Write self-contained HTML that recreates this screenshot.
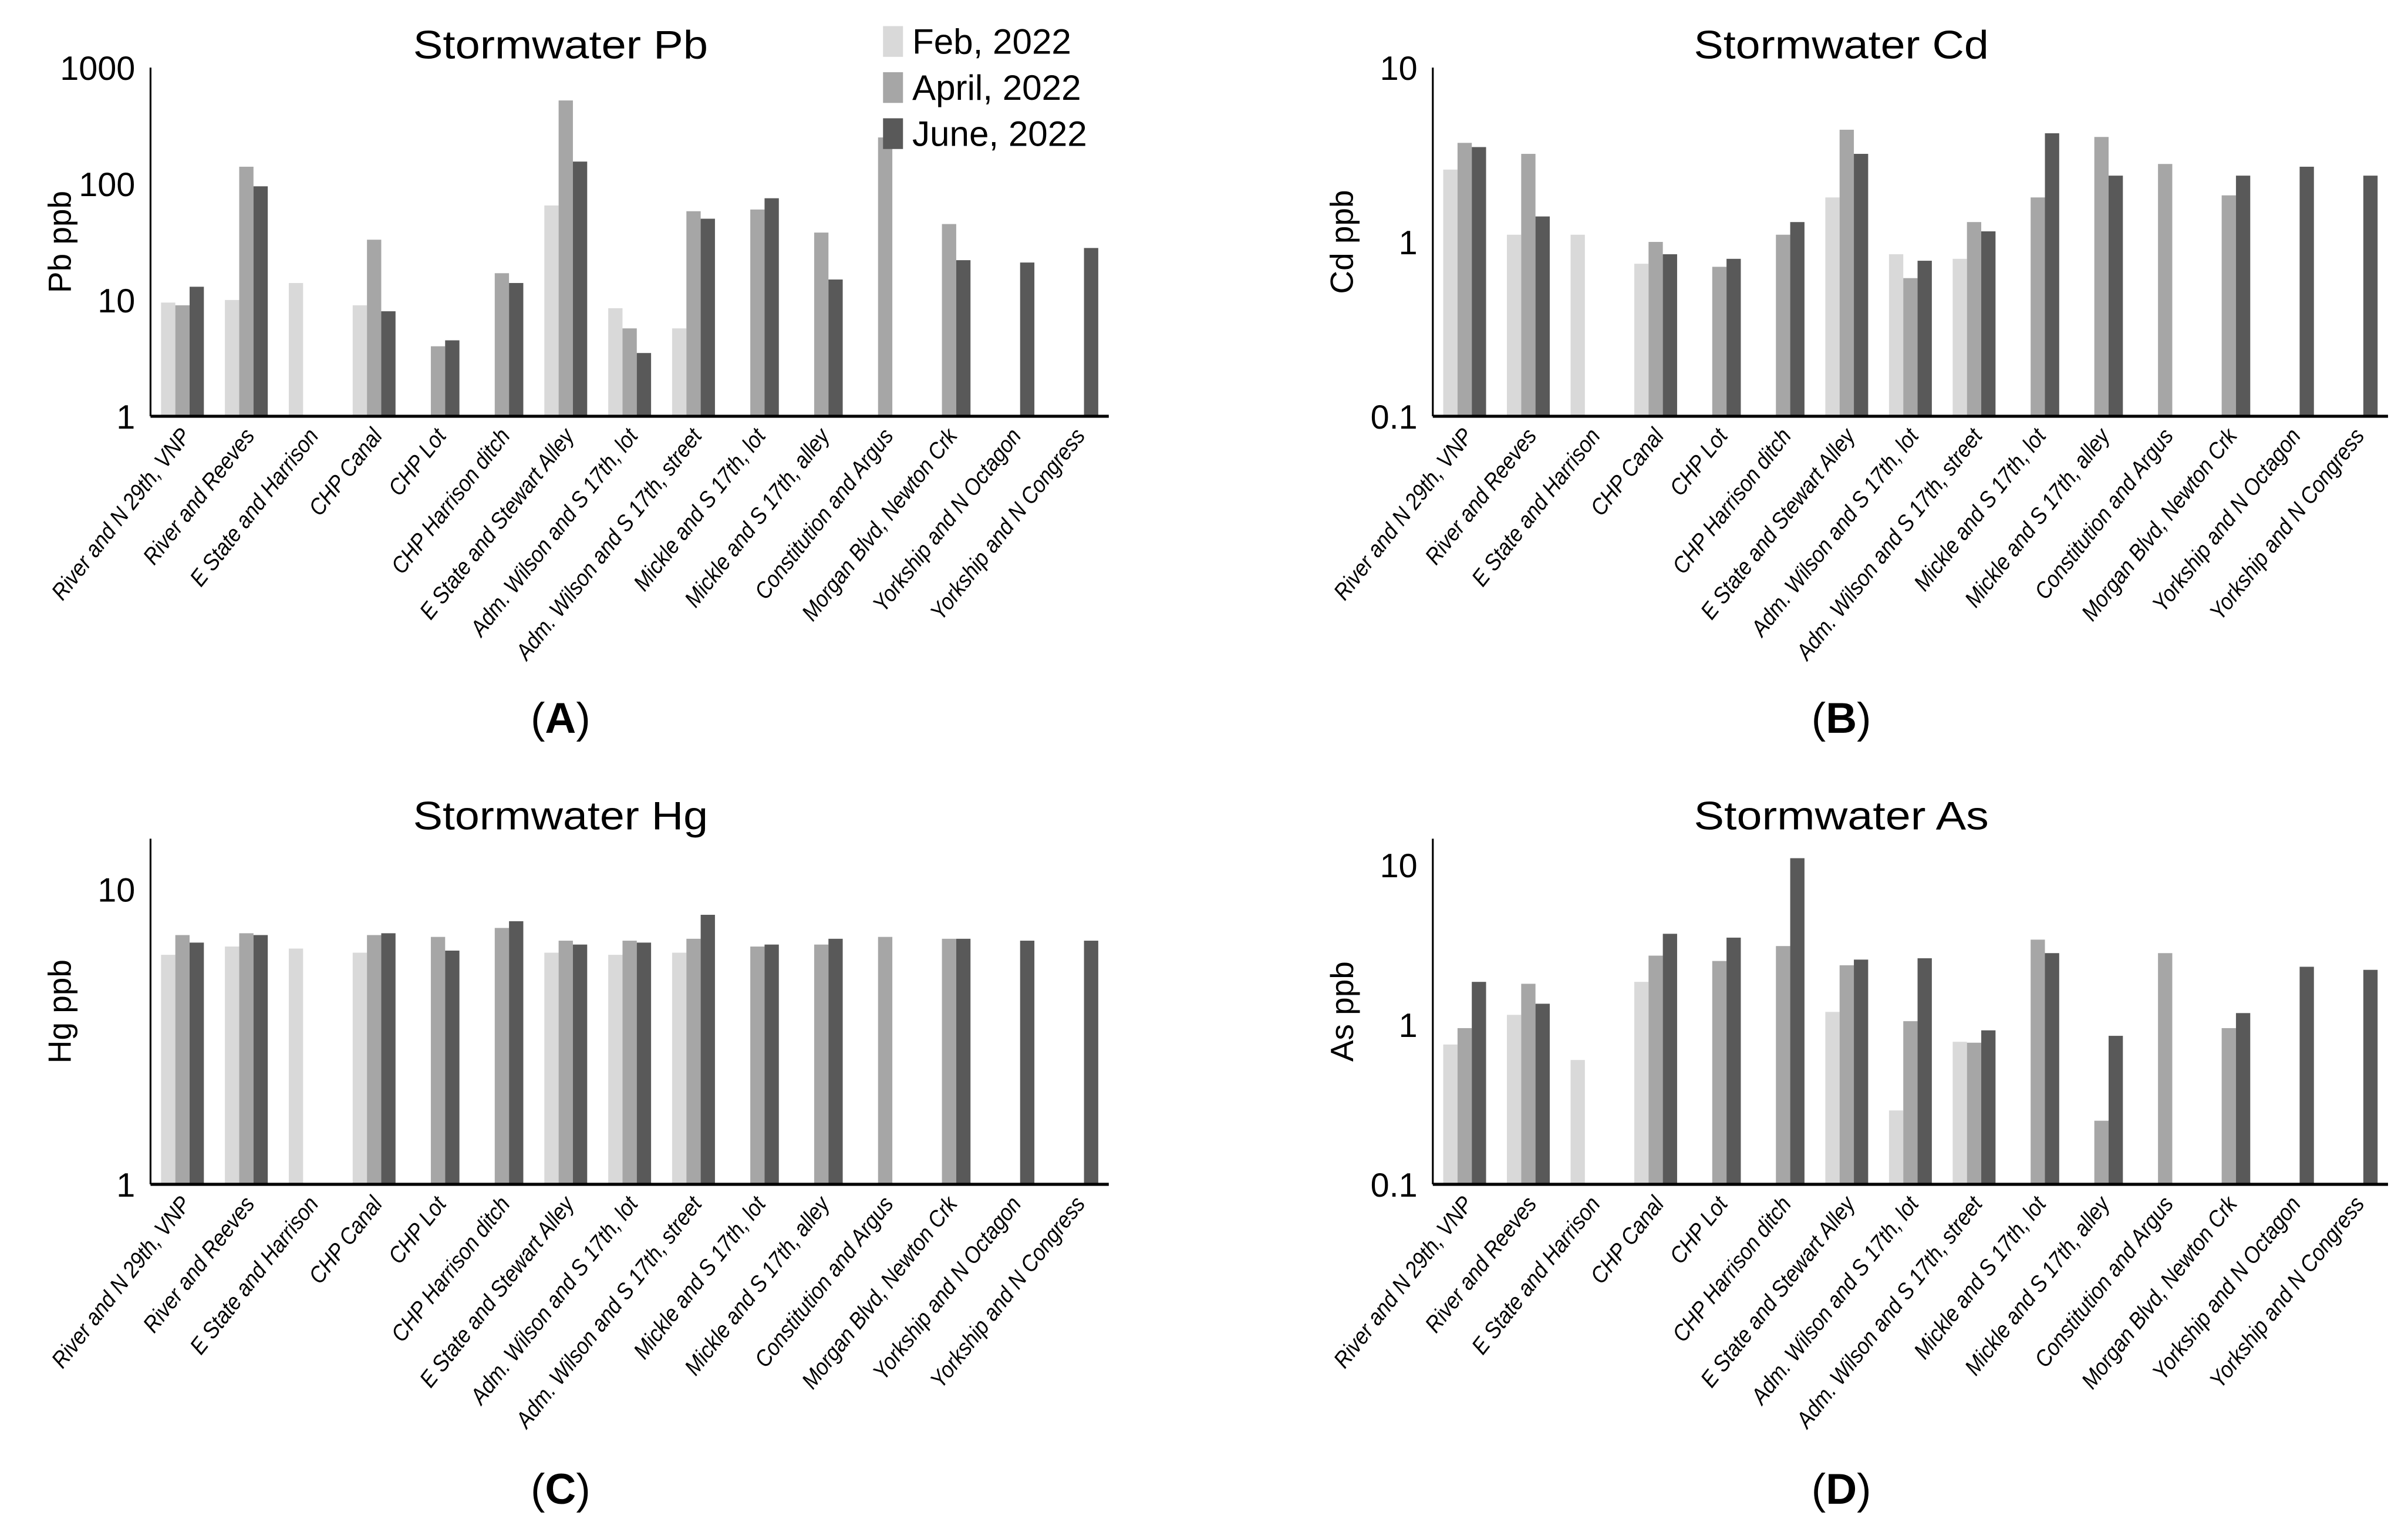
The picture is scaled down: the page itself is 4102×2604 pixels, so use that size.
<!DOCTYPE html>
<html><head><meta charset="utf-8"><style>
html,body{margin:0;padding:0;background:#fff;}
svg{display:block;}
text{font-family:"Liberation Sans",sans-serif;}
</style></head><body>
<svg id="fig" width="4102" height="2604" viewBox="0 0 1568 995.4" xmlns="http://www.w3.org/2000/svg"></svg>
<script>
const categories = ["River and N 29th, VNP","River and Reeves","E State and Harrison","CHP Canal","CHP Lot","CHP Harrison ditch","E State and Stewart Alley","Adm. Wilson and S 17th, lot","Adm. Wilson and S 17th, street","Mickle and S 17th, lot","Mickle and S 17th, alley","Constitution and Argus","Morgan Blvd, Newton Crk","Yorkship and N Octagon","Yorkship and N Congress"];
const seriesNames = ["Feb, 2022","April, 2022","June, 2022"];
const pbFeb = [9.5,10,14,9,null,null,65,8.5,5.7,null,null,null,null,null,null];
const pbApr = [9,140,null,33,4,17,520,5.7,58,60,38,250,45,null,null];
const pbJun = [13,95,null,8,4.5,14,155,3.5,50,75,15,null,22,21,28];
const cdFeb = [2.6,1.1,1.1,0.75,null,null,1.8,0.85,0.8,null,null,null,null,null,null];
const cdApr = [3.7,3.2,null,1.0,0.72,1.1,4.4,0.62,1.3,1.8,4.0,2.8,1.85,null,null];
const cdJun = [3.5,1.4,null,0.85,0.8,1.3,3.2,0.78,1.15,4.2,2.4,null,2.4,2.7,2.4];
const hgFeb = [6.0,6.4,6.3,6.1,null,null,6.1,6.0,6.1,null,null,null,null,null,null];
const hgApr = [7.0,7.1,null,7.0,6.9,7.4,6.7,6.7,6.8,6.4,6.5,6.9,6.8,null,null];
const hgJun = [6.6,7.0,null,7.1,6.2,7.8,6.5,6.6,8.2,6.5,6.8,null,6.8,6.7,6.7];
const asFeb = [0.75,1.15,0.6,1.85,null,null,1.2,0.29,0.78,null,null,null,null,null,null];
const asApr = [0.95,1.8,null,2.7,2.5,3.1,2.35,1.05,0.77,3.4,0.25,2.8,0.95,null,null];
const asJun = [1.85,1.35,null,3.7,3.5,11,2.55,2.6,0.92,2.8,0.85,null,1.18,2.3,2.2];
const pbTicks = ["1","10","100","1000"];
const cdTicks = ["0.1","1","10"];
const hgTicks = ["1","10"];
const asTicks = ["0.1","1","10"];
const colors = ["#d9d9d9","#a6a6a6","#595959"];
const NS="http://www.w3.org/2000/svg";
const svg=document.getElementById('fig');
function mk(tag,attrs,parent){const e=document.createElementNS(NS,tag);for(const k in attrs)e.setAttribute(k,attrs[k]);(parent||svg).appendChild(e);return e;}

function panel(cfg){
  const g=mk('g',{});
  
  
  const {x0,x1,yTopPx,yBot,decPx,minLog}=cfg;
  const yScale=v=>yBot-(Math.log10(v)-minLog)*decPx;
  const gw=(x1-x0)/categories.length, bw=9.3;
  const t=mk('text',{x:cfg.titleX,y:cfg.titleY,'font-size':26,'text-anchor':'middle',fill:'#000',textLength:192,lengthAdjust:'spacingAndGlyphs'},g);
  t.textContent=cfg.title;
  
  
  [cfg.s0,cfg.s1,cfg.s2].forEach((arr,si)=>{
    arr.forEach((v,i)=>{
      if(v==null)return;
      const cx=x0+(i+0.5)*gw;
      const bx=cx-1.5*bw+si*bw;
      const y=yScale(v);
      const r=mk('rect',{x:bx,y:y,width:bw,height:yBot-y,fill:colors[si]},g);
      
      
    });
  });
  const ya=mk('line',{x1:x0,y1:yTopPx,x2:x0,y2:yBot,stroke:'#000','stroke-width':1.2},g);
  
  
  const xa=mk('line',{x1:x0,y1:yBot,x2:x1,y2:yBot,stroke:'#000','stroke-width':2},g);
  
  
  cfg.ticks.forEach(lbl=>{
    const tt=mk('text',{x:x0-10,y:yScale(parseFloat(lbl))+8,'font-size':22,'text-anchor':'end',fill:'#000'},g);
    tt.textContent=lbl;
    
    
  });
  const ymid=(yTopPx+yBot)/2;
  const at=mk('text',{x:x0-52,y:ymid,'font-size':21,'text-anchor':'middle',fill:'#000',transform:`rotate(-90 ${x0-52} ${ymid})`},g);
  at.textContent=cfg.axisTitle;
  
  
  categories.forEach((c,i)=>{
    const cx=x0+(i+0.5)*gw+6, cy=yBot+13;
    const ct=mk('text',{x:0,y:0,'font-size':15,'font-style':'italic','text-anchor':'end',fill:'#000',transform:`translate(${cx} ${cy}) rotate(-52) scale(0.9 1)`},g);
    ct.textContent=c;
    
    
  });
  const pl=mk('text',{x:cfg.titleX,y:cfg.capY,'font-size':28,'text-anchor':'middle','font-family':'Liberation Serif, serif',fill:'#000'},g);
  pl.innerHTML='(<tspan font-weight="bold">'+cfg.cap+'</tspan>)';
  
  
}
panel({name:'pb',title:'Stormwater Pb',axisTitle:'Pb ppb',x0:98,x1:722,yTopPx:44,yBot:271,decPx:75.7,minLog:0,titleX:365,titleY:38,capY:477,cap:'A',ticks:pbTicks,s0:pbFeb,s1:pbApr,s2:pbJun});
panel({name:'cd',title:'Stormwater Cd',axisTitle:'Cd ppb',x0:933,x1:1555,yTopPx:44,yBot:271,decPx:113.5,minLog:-1,titleX:1199,titleY:38,capY:477,cap:'B',ticks:cdTicks,s0:cdFeb,s1:cdApr,s2:cdJun});
panel({name:'hg',title:'Stormwater Hg',axisTitle:'Hg ppb',x0:98,x1:722,yTopPx:546,yBot:771,decPx:192,minLog:0,titleX:365,titleY:540,capY:979,cap:'C',ticks:hgTicks,s0:hgFeb,s1:hgApr,s2:hgJun});
panel({name:'as',title:'Stormwater As',axisTitle:'As ppb',x0:933,x1:1555,yTopPx:546,yBot:771,decPx:104,minLog:-1,titleX:1199,titleY:540,capY:979,cap:'D',ticks:asTicks,s0:asFeb,s1:asApr,s2:asJun});
seriesNames.forEach((n,i)=>{
  const y=27+i*30;
  const sw=mk('rect',{x:575,y:y-10,width:13,height:20,fill:colors[i]});
  
  
  const lt=mk('text',{x:594,y:y+8,'font-size':23,fill:'#000'});
  lt.textContent=n;
  
  
});
</script>
</body></html>
